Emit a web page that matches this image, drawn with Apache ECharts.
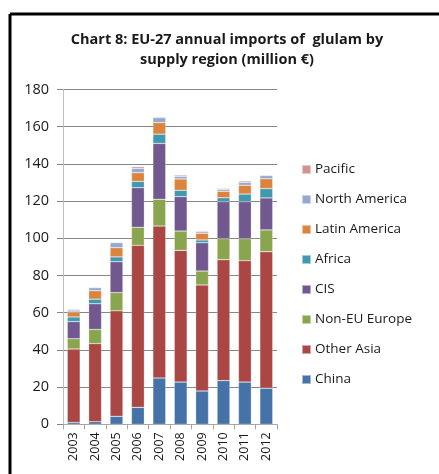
<!DOCTYPE html>
<html>
<head>
<meta charset="utf-8">
<script src="https://cdn.jsdelivr.net/npm/echarts@6/dist/echarts.min.js"></script>
<style>
  html, body { margin: 0; padding: 0; background: #fff; }
  #chart { width: 439px; height: 474px; }
</style>
</head>
<body>
<div id="chart"></div>
<script>
// years on the x axis
var years = ['2003', '2004', '2005', '2006', '2007', '2008', '2009', '2010', '2011', '2012'];

// million EUR
var china        = [1.0, 1.4, 4.3, 9.1, 24.9, 22.7, 17.9, 23.5, 22.7, 19.4];
var otherAsia    = [39.5, 42.0, 56.7, 87.1, 81.7, 70.8, 57.0, 65.0, 65.3, 73.4];
var nonEuEurope  = [5.5, 7.6, 9.8, 9.7, 14.4, 10.4, 7.5, 11.3, 11.8, 11.7];
var cis          = [9.2, 13.8, 16.6, 21.3, 30.0, 18.5, 15.2, 19.9, 19.9, 17.2];
var africa       = [2.5, 2.5, 2.6, 3.4, 5.0, 3.4, 1.5, 2.1, 4.1, 5.0];
var latinAmerica = [2.7, 4.5, 5.0, 4.7, 6.2, 6.1, 3.6, 3.5, 4.7, 5.3];
var northAmerica = [1.0, 1.6, 2.6, 2.3, 2.6, 1.4, 0.8, 1.0, 1.6, 1.7];
var pacific      = [0.5, 0.4, 0.4, 0.9, 0.5, 0.7, 0.5, 0.5, 0.7, 0.4];

var yTicks = [0, 20, 40, 60, 80, 100, 120, 140, 160, 180];

var chart = echarts.init(document.getElementById('chart'));

function bar(name, data, color) {
  return {
    name: name,
    type: 'bar',
    stack: 'total',
    barWidth: '60%',
    data: data,
    itemStyle: { color: color, borderColor: 'rgba(255,255,255,0.5)', borderWidth: 0.5 }
  };
}

var option = {
  backgroundColor: '#ffffff',
  animation: false,
  textStyle: { fontFamily: 'Open Sans' },
  title: {
    text: 'Chart 8: EU-27 annual imports of  glulam by\nsupply region (million \u20ac)',
    left: 222,
    top: 25,
    textAlign: 'center',
    textStyle: { fontSize: 14.5, fontWeight: 'bold', color: '#1a1a1a', lineHeight: 20, fontFamily: 'Open Sans' }
  },
  legend: {
    orient: 'vertical',
    left: 296,
    top: 155,
    itemWidth: 9,
    itemHeight: 9,
    itemGap: 11,
    icon: 'rect',
    textStyle: { fontSize: 13.5, color: '#1a1a1a', lineHeight: 19, padding: [0, 0, 0, -1] },
    data: ['Pacific', 'North America', 'Latin America', 'Africa', 'CIS', 'Non-EU Europe', 'Other Asia', 'China']
  },
  grid: { left: 63, top: 89.5, width: 214, bottom: 474 - 424.3 },
  xAxis: {
    type: 'category',
    data: years,
    axisLine: { lineStyle: { color: '#a6a6a6' } },
    axisTick: { show: true, length: 5, lineStyle: { color: '#a6a6a6' } },
    axisLabel: { rotate: 90, fontSize: 12.5, color: '#1a1a1a', margin: 8 }
  },
  yAxis: {
    type: 'value',
    min: yTicks[0],
    max: yTicks[yTicks.length - 1],
    interval: 20,
    axisLine: { show: true, lineStyle: { color: '#bfbfbf' } },
    axisTick: { show: true, length: 6, lineStyle: { color: '#868686' } },
    axisLabel: { fontSize: 14.5, color: '#1a1a1a', margin: 14 },
    splitLine: { lineStyle: { color: '#868686', width: 1 } }
  },
  graphic: [
    { type: 'line', shape: { x1: 10, y1: 14, x2: 439, y2: 14 }, style: { stroke: '#000', lineWidth: 3 } },
    { type: 'line', shape: { x1: 10, y1: 14, x2: 10, y2: 474 }, style: { stroke: '#000', lineWidth: 3 } }
  ],
  series: [
    bar('China', china, '#4572a7'),
    bar('Other Asia', otherAsia, '#aa4643'),
    bar('Non-EU Europe', nonEuEurope, '#89a54e'),
    bar('CIS', cis, '#71588f'),
    bar('Africa', africa, '#4198af'),
    bar('Latin America', latinAmerica, '#db843d'),
    bar('North America', northAmerica, '#93a9cf'),
    bar('Pacific', pacific, '#d19392')
  ]
};

chart.setOption(option);
</script>
</body>
</html>
